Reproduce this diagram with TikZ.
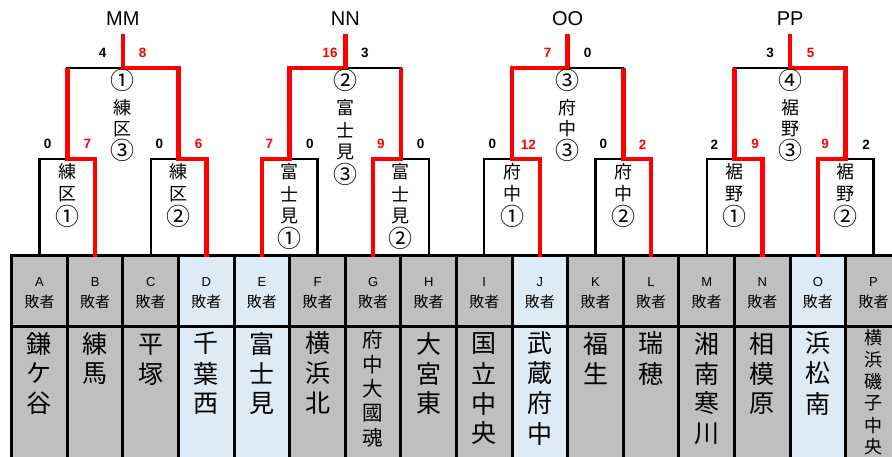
\documentclass[tikz,border=0pt]{standalone}
\usepackage{fontspec}
\setmainfont{Liberation Sans}
\newfontfamily\cjk{Noto Sans CJK JP}
\usetikzlibrary{calc}
\definecolor{cellgray}{RGB}{191,191,191}
\definecolor{cellblue}{RGB}{221,235,247}
\definecolor{winred}{RGB}{255,0,0}
\newcommand\cd[1]{{\fontsize{24}{24}\selectfont#1}}
\newcommand\vstack[6]{%
  \foreach \glyphch [count=\k from 0] in {#6} {%
    \node[#5] (#1\k) at ({#2},{#3+\k*#4}) {\glyphch};
  }}
\newcommand\bracketgroup[5]{%
  \coordinate (#1m1) at ($(h#2)!0.5!(h#3)$);
  \coordinate (#1m2) at ($(h#4)!0.5!(h#5)$);
  \coordinate (#1u1) at ($(#1m1)+(0,-91)$);
  \coordinate (#1u2) at ($(#1m2)+(0,-91)$);
  \coordinate (#1s) at ($(#1u1)!0.5!(#1u2)$);
  \coordinate (#1top) at ($(#1s)+(0,-34)$);
  \draw[bk] (t#2)--(h#2)--(h#3)--(t#3);
  \draw[bk] (t#4)--(h#4)--(h#5)--(t#5);
  \draw[bk] (#1m1)--(#1u1)--(#1u2)--(#1m2);
  \draw[bk] (#1s)--(#1top);
}
\begin{document}
\begin{tikzpicture}[x=1pt,y=-1pt,
  bk/.style={line width=2.2pt,black},
  rd/.style={line width=4.5pt,winred},
  tbl/.style={line width=3pt,black},
  sc/.style={inner sep=0pt,font=\bfseries\fontsize{13.5}{13.5}\selectfont},
  scr/.style={sc,text=winred},
  ttl/.style={inner sep=0pt,font=\fontsize{20}{20}\selectfont},
  lab/.style={inner sep=0pt,font=\cjk\fontsize{18}{18}\selectfont},
  hdl/.style={inner sep=0pt,font=\fontsize{13}{13}\selectfont},
  hdk/.style={inner sep=0pt,font=\cjk\fontsize{15}{15}\selectfont},
  nm/.style={inner sep=0pt,font=\cjk\fontsize{25}{25}\selectfont},
  nmg/.style={inner sep=0pt,font=\cjk\fontsize{20.5}{20.5}\selectfont},
  nmp/.style={inner sep=0pt,font=\cjk\fontsize{18}{18}\selectfont}]
\useasboundingbox (0,0) rectangle (892,456);
\clip (0,0) rectangle (892,456);
% column fills and headers
\foreach \L/\colr [count=\i from 0] in {A/cellgray,B/cellgray,C/cellgray,D/cellblue,E/cellblue,F/cellgray,G/cellgray,H/cellgray,I/cellgray,J/cellblue,K/cellgray,L/cellgray,M/cellgray,N/cellgray,O/cellblue,P/cellgray}{
  \fill[\colr] ({11.7+\i*55.6},255.3) rectangle ({11.7+(\i+1)*55.6},470);
  \coordinate (t\L) at ({11.7+(\i+0.5)*55.6},257);
  \coordinate (h\L) at ({11.7+(\i+0.5)*55.6},159);
  \node[hdl] (let\L) at ({11.7+(\i+0.5)*55.6},281.7) {\L};
  \node[hdk] (lose\L) at ({11.7+(\i+0.5)*55.6},301.7) {敗者};
}
% table lines
\draw[tbl] (10.2,255.3) -- (905,255.3);
\draw[tbl] (10.2,326.7) -- (905,326.7);
\foreach \i in {0,...,16}{\draw[tbl] ({11.7+\i*55.6},253.8) -- ({11.7+\i*55.6},470);}
% names
\vstack{nA}{39.5}{343.5}{30}{nm}{鎌,ケ,谷}
\vstack{nB}{95.1}{343.5}{30}{nm}{練,馬}
\vstack{nC}{150.7}{344.5}{30}{nm}{平,塚}
\vstack{nD}{206.3}{343.5}{30}{nm}{千,葉,西}
\vstack{nE}{261.9}{343.5}{30}{nm}{富,士,見}
\vstack{nF}{317.5}{343.5}{30}{nm}{横,浜,北}
\vstack{nG}{373.1}{340}{24.5}{nmg}{府,中,大,國,魂}
\vstack{nH}{428.7}{343.5}{30}{nm}{大,宮,東}
\vstack{nI}{484.3}{343.5}{30}{nm}{国,立,中,央}
\vstack{nJ}{539.9}{343.5}{30}{nm}{武,蔵,府,中}
\vstack{nK}{595.5}{343.5}{30}{nm}{福,生}
\vstack{nL}{651.1}{343.5}{30}{nm}{瑞,穂}
\vstack{nM}{706.7}{343.5}{30}{nm}{湘,南,寒,川}
\vstack{nN}{762.3}{343.5}{30}{nm}{相,模,原}
\vstack{nO}{817.9}{343.5}{30}{nm}{浜,松,南}
\vstack{nP}{873.5}{338}{21.8}{nmp}{横,浜,磯,子,中,央}
% brackets (black)
\bracketgroup{MM}{A}{B}{C}{D}
\bracketgroup{NN}{E}{F}{G}{H}
\bracketgroup{OO}{I}{J}{K}{L}
\bracketgroup{PP}{M}{N}{O}{P}
% winning paths (red)
\draw[rd] (tB)--(hB)--(MMm1)--(MMu1);
\draw[rd] (tD)--(hD)--(MMm2)--(MMu2)--(MMs)--(MMtop);
\draw[rd] (tE)--(hE)--(NNm1)--(NNu1)--(NNs)--(NNtop);
\draw[rd] (tG)--(hG)--(NNm2)--(NNu2);
\draw[rd] (tJ)--(hJ)--(OOm1)--(OOu1)--(OOs)--(OOtop);
\draw[rd] (tL)--(hL)--(OOm2)--(OOu2);
\draw[rd] (tN)--(hN)--(PPm1)--(PPu1);
\draw[rd] (tO)--(hO)--(PPm2)--(PPu2)--(PPs)--(PPtop);
% titles
\node[ttl] (tMM) at (122.9,18.5) {MM};
\node[ttl] (tNN) at (345.3,18.5) {NN};
\node[ttl] (tOO) at (567.7,18.5) {OO};
\node[ttl] (tPP) at (790.1,18.5) {PP};
% scores
\node[sc]  (sMMl) at (102.7,52.8) {4};
\node[scr] (sMMr) at (142.7,52.8) {8};
\node[sc]  (sA) at (47.7,144.3) {0};
\node[scr] (sB) at (87.3,144.3) {7};
\node[sc]  (sC) at (159.3,144.3) {0};
\node[scr] (sD) at (198.7,144.3) {6};
\node[scr] (sNNl) at (330,52.8) {16};
\node[sc]  (sNNr) at (365,52.8) {3};
\node[scr] (sE) at (269.3,144.3) {7};
\node[sc]  (sF) at (310,144.3) {0};
\node[scr] (sG) at (381,144.3) {9};
\node[sc]  (sH) at (420.7,144.3) {0};
\node[scr] (sOOl) at (547.7,52.8) {7};
\node[sc]  (sOOr) at (587.7,52.8) {0};
\node[sc]  (sI) at (492.3,144.3) {0};
\node[scr] (sJ) at (528.3,144.3) {12};
\node[sc]  (sK) at (603.3,144.3) {0};
\node[scr] (sL) at (642.7,144.3) {2};
\node[sc]  (sPPl) at (770,52.8) {3};
\node[scr] (sPPr) at (810.7,52.8) {5};
\node[sc]  (sM) at (714.3,144.3) {2};
\node[scr] (sN) at (755,144.3) {9};
\node[scr] (sO) at (825,144.3) {9};
\node[sc]  (sP) at (866,144.3) {2};
% round-2 labels
\node[lab] (cMM) at (122.9,80) {\cd{①}};
\vstack{cMMk}{122.9}{107.5}{21.5}{lab}{練,区,\cd{③}}
\node[lab] (cNN) at (345.3,80) {\cd{②}};
\vstack{cNNk}{345.3}{107.5}{22.3}{lab}{富,士,見,\cd{③}}
\node[lab] (cOO) at (567.7,80) {\cd{③}};
\vstack{cOOk}{567.7}{107.5}{21.5}{lab}{府,中,\cd{③}}
\node[lab] (cPP) at (790.1,80) {\cd{④}};
\vstack{cPPk}{790.1}{107.5}{21.5}{lab}{裾,野,\cd{③}}
% round-1 labels
\vstack{bAB}{67.3}{172}{22}{lab}{練,区,\cd{①}}
\vstack{bCD}{178.5}{172}{22}{lab}{練,区,\cd{②}}
\vstack{bEF}{289.7}{172}{22}{lab}{富,士,見,\cd{①}}
\vstack{bGH}{400.9}{172}{22}{lab}{富,士,見,\cd{②}}
\vstack{bIJ}{512.1}{172}{22}{lab}{府,中,\cd{①}}
\vstack{bKL}{623.3}{172}{22}{lab}{府,中,\cd{②}}
\vstack{bMN}{734.5}{172}{22}{lab}{裾,野,\cd{①}}
\vstack{bOP}{845.7}{172}{22}{lab}{裾,野,\cd{②}}
\end{tikzpicture}
\end{document}
